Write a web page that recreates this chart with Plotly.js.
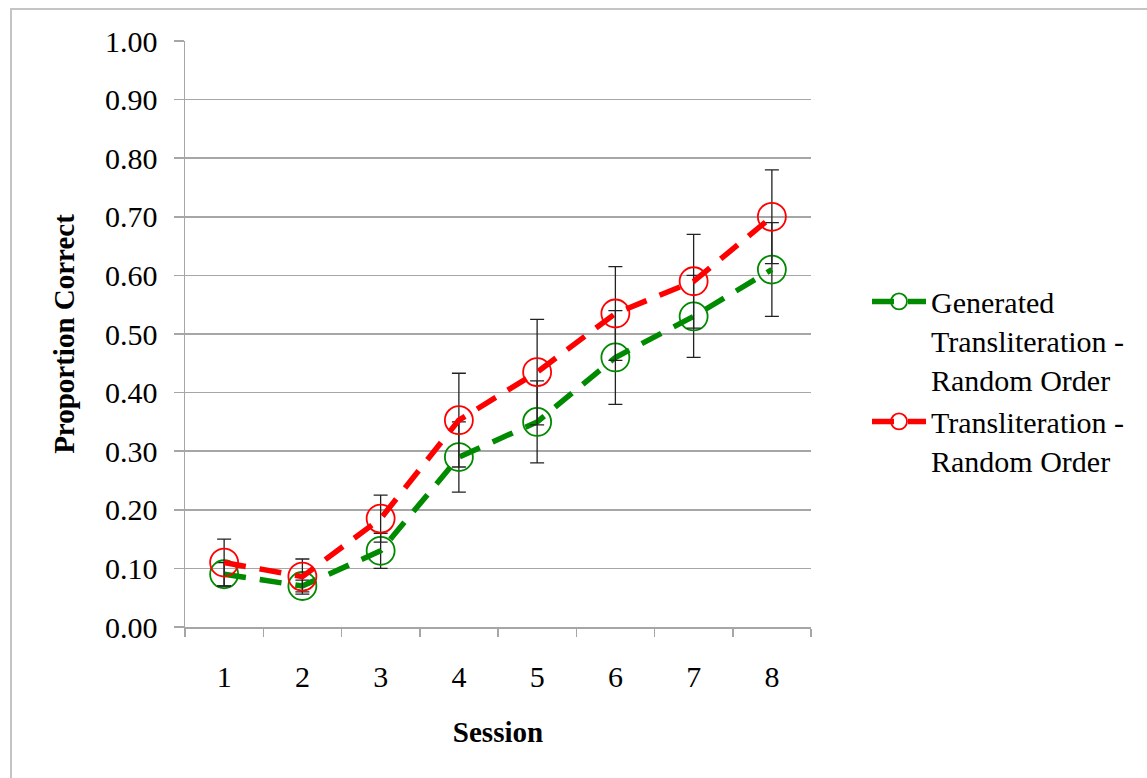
<!DOCTYPE html>
<html>
<head>
<meta charset="utf-8">
<script src="https://cdn.plot.ly/plotly-3.0.1.min.js"></script>
<style>
  html, body { margin: 0; padding: 0; background: #ffffff; }
  #frame { position: absolute; left: 10px; top: 8px; width: 1160px; height: 800px; border: 2px solid #c4c4c4; box-sizing: border-box; pointer-events: none; z-index: 5; }
  #chart { position: absolute; left: 0; top: 0; width: 1147px; height: 778px; }
</style>
</head>
<body>
<div id="chart"></div>
<div id="frame"></div>
<script>
const sessions = ['1', '2', '3', '4', '5', '6', '7', '8'];
const generatedMean = [0.09, 0.07, 0.13, 0.29, 0.35, 0.46, 0.53, 0.61];
const generatedErr  = [0.02, 0.01, 0.03, 0.06, 0.07, 0.08, 0.07, 0.08];
const translitMean  = [0.11, 0.086, 0.185, 0.353, 0.435, 0.535, 0.59, 0.70];
const translitErr   = [0.04, 0.03, 0.04, 0.08, 0.09, 0.08, 0.08, 0.08];
const yTickVals = [0, 0.1, 0.2, 0.3, 0.4, 0.5, 0.6, 0.7, 0.8, 0.9, 1.0];
const yTickText = ['0.00', '0.10', '0.20', '0.30', '0.40', '0.50', '0.60', '0.70', '0.80', '0.90', '1.00'];
const seriesNames = ['Generated<br>Transliteration -<br>Random Order', 'Transliteration -<br>Random Order'];

const serif = 'Liberation Serif, Times New Roman, serif';

function makeTrace(name, y, err, color) {
  return {
    type: 'scatter',
    mode: 'lines+markers',
    name: name,
    x: sessions,
    y: y,
    line: { color: color, width: 5.5, dash: '22px,14px' },
    marker: { symbol: 'circle-open', size: 28, color: color, line: { width: 1.8, color: color } },
    error_y: { type: 'data', array: err, visible: true, color: '#222222', thickness: 1.3, width: 7 }
  };
}

const data = [
  makeTrace(seriesNames[0], generatedMean, generatedErr, '#008a00'),
  makeTrace(seriesNames[1], translitMean, translitErr, '#ff0000')
];

const layout = {
  width: 1147,
  height: 778,
  margin: { l: 185, r: 336, t: 41, b: 151, pad: 0 },
  paper_bgcolor: '#ffffff',
  plot_bgcolor: '#ffffff',
  font: { family: serif, color: '#000000', size: 30 },
  showlegend: true,
  legend: {
    x: 1.0895, y: 0.6, xanchor: 'left', yanchor: 'top',
    font: { family: serif, size: 30, color: '#000000' },
    bgcolor: 'rgba(0,0,0,0)',
    valign: 'top',
    itemwidth: 54,
    tracegroupgap: 0
  },
  xaxis: {
    type: 'category',
    range: [-0.5, 7.5],
    showgrid: false,
    showline: true,
    linecolor: '#a6a6a6',
    linewidth: 1.5,
    ticks: 'outside',
    tickson: 'boundaries',
    ticklen: 8,
    tickcolor: '#a6a6a6',
    tickwidth: 1.5,
    ticklabelstandoff: 22,
    tickfont: { family: serif, size: 30 },
    title: { text: '<b>Session</b>', font: { family: serif, size: 29 }, standoff: 30 },
    zeroline: false,
    fixedrange: true
  },
  yaxis: {
    range: [0, 1],
    tickvals: yTickVals,
    ticktext: yTickText,
    showgrid: true,
    gridcolor: '#a6a6a6',
    gridwidth: 1.5,
    showline: true,
    linecolor: '#a6a6a6',
    linewidth: 1.5,
    ticks: 'outside',
    ticklen: 10,
    tickcolor: '#a6a6a6',
    tickwidth: 1.5,
    ticklabelstandoff: 10,
    tickfont: { family: serif, size: 30 },
    title: { text: '<b>Proportion Correct</b>', font: { family: serif, size: 29 }, standoff: 22 },
    zeroline: false,
    fixedrange: true
  }
};

Plotly.newPlot('chart', data, layout, { displayModeBar: false, staticPlot: true });
</script>
</body>
</html>
